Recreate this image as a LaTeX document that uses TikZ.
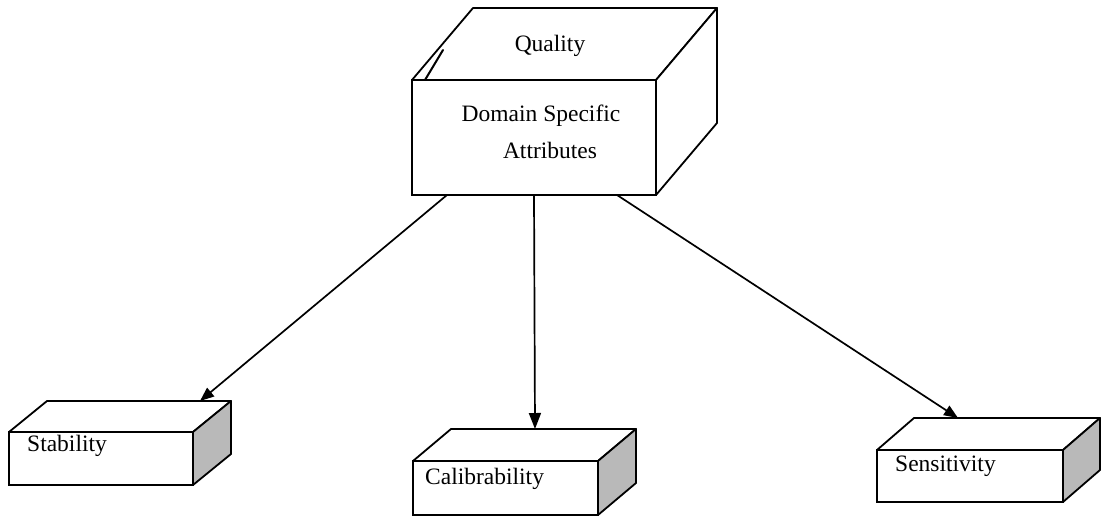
\documentclass[tikz,border=0pt]{standalone}
\usepackage{fontspec}
\setmainfont{Liberation Serif}
\usetikzlibrary{arrows.meta,calc}
\begin{document}
\begin{tikzpicture}[x=1pt,y=-1pt,
  face/.style={draw=black,line width=1.8pt,fill=white,inner sep=0pt,outer sep=0pt},
  edge/.style={draw=black,line width=1.8pt,line join=round},
  shade/.style={edge,fill=gray!55},
  lbl/.style={inner sep=0pt,font=\fontsize{23.5}{28}\selectfont},
  link/.style={draw=black,line width=1.7pt,-{Triangle[length=14pt,width=11pt]}},
  bigtip/.style={-{Triangle[length=16pt,width=12pt]}}
]
\useasboundingbox (0,0) rectangle (1111,517);

% Main block
\node[face,minimum width=244pt,minimum height=115pt] (dsa) at (534,137.5) {};
\draw[edge,fill=white] (dsa.north west) -- ++(61,-72) -- ++(244,0) -- (dsa.north east) -- cycle;
\draw[edge,fill=white] (dsa.north east) -- ++(61,-72) -- ++(0,115) -- (dsa.south east) -- cycle;
\node[lbl] (qual) at (550,46) {Quality};
\node[lbl] (dom) at (541,116) {Domain Specific};
\node[lbl] (attr) at (550,150) {Attributes};
\draw[line width=2pt,line cap=round] (425,80) -- (443,50);

% Stability block
\node[face,minimum width=184pt,minimum height=53pt] (stab) at (101,458.5) {};
\draw[edge,fill=white] (stab.north west) -- ++(38,-31) -- ++(184,0) -- (stab.north east) -- cycle;
\draw[shade] (stab.north east) -- ++(38,-31) -- ++(0,53) -- (stab.south east) -- cycle;
\node[lbl,anchor=west] (stabT) at (27,446) {Stability};
\coordinate (stabIn) at (200,401);

% Calibrability block
\node[face,minimum width=185pt,minimum height=54pt] (cal) at (505.5,488) {};
\draw[edge,fill=white] (cal.north west) -- ++(38,-32) -- ++(185,0) -- (cal.north east) -- cycle;
\draw[shade] (cal.north east) -- ++(38,-32) -- ++(0,54) -- (cal.south east) -- cycle;
\node[lbl,anchor=west] (calT) at (425,479) {Calibrability};
\coordinate (calIn) at (535,429);

% Sensitivity block
\node[face,minimum width=186pt,minimum height=52pt] (sens) at (970,476) {};
\draw[edge,fill=white] (sens.north west) -- ++(37,-32) -- ++(186,0) -- (sens.north east) -- cycle;
\draw[shade] (sens.north east) -- ++(37,-32) -- ++(0,52) -- (sens.south east) -- cycle;
\node[lbl,anchor=west] (sensT) at (895,466) {Sensitivity};
\coordinate (sensIn) at (958,418);

% Connectors
\coordinate (outL) at ($(dsa.south west)+(35,0)$);
\coordinate (outM) at ($(dsa.south west)+(122,0)$);
\coordinate (outR) at ($(dsa.south west)+(205,0)$);
\draw[link] (outL) -- (stabIn);
\draw[link,bigtip] (outM) -- (calIn);
\draw[link] (outR) -- (sensIn);
\end{tikzpicture}
\end{document}
